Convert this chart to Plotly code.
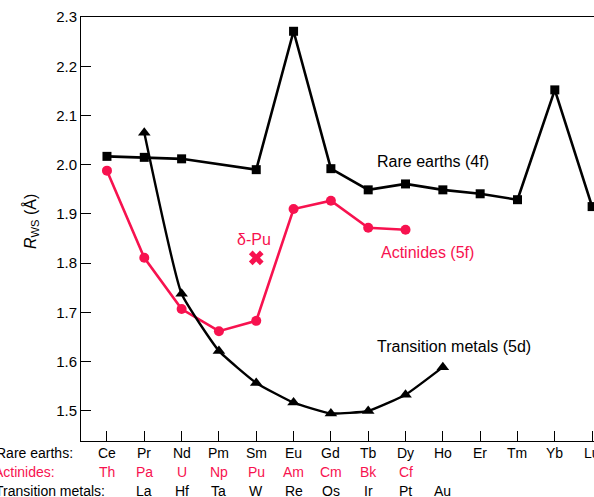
import plotly.graph_objects as go

rare_earths = ["Ce", "Pr", "Nd", "Pm", "Sm", "Eu", "Gd", "Tb", "Dy", "Ho", "Er", "Tm", "Yb", "Lu"]
actinides = ["Th", "Pa", "U", "Np", "Pu", "Am", "Cm", "Bk", "Cf", "", "", "", "", ""]
transition = ["", "La", "Hf", "Ta", "W", "Re", "Os", "Ir", "Pt", "Au", "", "", "", ""]

rws_rare = [2.017, 2.015, 2.012, None, 1.990, 2.271, 1.992, 1.949, 1.961, 1.949, 1.941, 1.929, 2.152, 1.915]
rws_act = [1.988, 1.811, 1.707, 1.662, 1.683, 1.910, 1.927, 1.872, 1.868, None, None, None, None, None]
rws_tm = [None, 2.065, 1.738, 1.622, 1.557, 1.517, 1.495, 1.500, 1.533, 1.589, None, None, None, None]
delta_pu_x = ["Sm"]
delta_pu_y = [1.811]

RED = "#F7124F"
FONT = "Liberation Sans, Arial, sans-serif"

fig = go.Figure()
fig.add_trace(go.Scatter(x=rare_earths, y=rws_rare, mode="lines+markers", connectgaps=True,
                         line=dict(color="black", width=2.6),
                         marker=dict(symbol="square", size=9, color="black")))
fig.add_trace(go.Scatter(x=rare_earths, y=rws_act, mode="lines+markers",
                         line=dict(color=RED, width=2.6),
                         marker=dict(symbol="circle", size=10, color=RED)))
fig.add_trace(go.Scatter(x=rare_earths, y=rws_tm, mode="lines+markers",
                         line=dict(color="black", width=2.4, shape="spline", smoothing=0.4),
                         marker=dict(symbol="triangle-up", size=11, color="black")))
fig.add_trace(go.Scatter(x=delta_pu_x, y=delta_pu_y, mode="markers",
                         marker=dict(symbol="x", size=13, color=RED, line=dict(width=0))))

W, H = 594, 497
L, R, T, B = 81, 0, 17, 56
pw, ph = W - L - R, H - T - B

def px(xp):
    return (xp - L) / pw

def py(yp):
    return (H - B - yp) / ph

ann = []
def note(text, x, y, color="black", size=16, xanchor="center", **kw):
    ann.append(dict(text=text, x=px(x), y=py(y), xref="paper", yref="paper",
                    xanchor=xanchor, yanchor="middle", showarrow=False,
                    font=dict(size=size, color=color), **kw))

note("Rare earths (4f)", 433, 162)
note("Actinides (5f)", 427, 252, RED)
note("Transition metals (5d)", 375, 346, xanchor="left")
note("δ-Pu", 254, 239, RED)
note("<i>R</i><sub>WS</sub> (Å)", 31, 222, textangle=-90)

rows = [("Rare earths:", rare_earths, "black", 75, 453),
        ("Actinides:", actinides, RED, 57, 472),
        ("Transition metals:", transition, "black", 107, 491)]
for label, names, col, xr, yc in rows:
    note(label, xr, yc, col, size=14, xanchor="right")
    for cat, nm in zip(rare_earths, names):
        if nm:
            ann.append(dict(text=nm, x=cat, y=py(yc), xref="x", yref="paper",
                            xanchor="center", yanchor="middle", showarrow=False,
                            font=dict(size=14, color=col)))

fig.update_layout(
    width=W, height=H, margin=dict(l=L, r=R, t=T, b=B, pad=0),
    paper_bgcolor="white", plot_bgcolor="white", showlegend=False,
    font=dict(family=FONT, color="black"),
    annotations=ann,
    xaxis=dict(type="category", categoryarray=rare_earths, range=[-0.696, 13.05],
               showline=True, linecolor="black", linewidth=1, mirror=True,
               ticks="inside", ticklen=10, tickcolor="black", showticklabels=False,
               showgrid=False, zeroline=False),
    yaxis=dict(range=[1.439, 2.3], showline=True, linecolor="black", linewidth=1,
               ticks="inside", ticklen=10, tickcolor="black", tickvals=[1.5, 1.6, 1.7, 1.8, 1.9, 2.0, 2.1, 2.2, 2.3],
               tickformat=".1f", tickfont=dict(size=15), showgrid=False, zeroline=False),
)

fig.write_html("out.html")
